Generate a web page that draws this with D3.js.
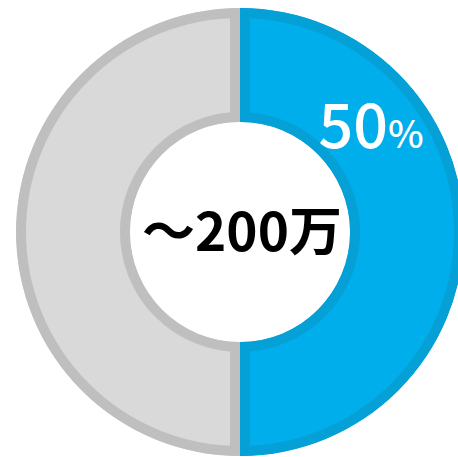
<!DOCTYPE html>
<html><head><meta charset="utf-8">
<script src="https://cdn.jsdelivr.net/npm/d3@7"></script>
<style>body{margin:0;background:#fff}</style>
</head><body>
<svg id="c" width="458" height="457"></svg>
<script>
const categories = ["該当", "その他"];
const values = [50, 50];
const colors = ["#00aeeb", "#d9d9d9"];
const strokes = ["#05a0d6", "#bfbfbf"];
const centerLabel = "～200万";
const pctLabel = "50";

const svg = d3.select("#c");
const cx = 240, cy = 232, R = 224, r = 110;
const g = svg.append("g").attr("transform", `translate(${cx},${cy})`);
const pie = d3.pie().sort(null)(values);
const arc = d3.arc().innerRadius(r).outerRadius(R);
const defs = svg.append("defs");
pie.forEach((d, i) => {
  defs.append("clipPath").attr("id", "cl" + i).append("path").attr("d", arc(d));
});
g.selectAll("path.s").data(pie).join("path")
  .attr("class", "s")
  .attr("d", arc)
  .attr("fill", (d, i) => colors[i])
  .attr("stroke", (d, i) => strokes[i])
  .attr("stroke-width", 20)
  .attr("clip-path", (d, i) => `url(#cl${i})`);

const t = svg.append("text").attr("x", 371).attr("y", 148)
  .attr("text-anchor", "middle").attr("fill", "#fff")
  .style("font-family", "'Noto Sans CJK JP', 'Noto Sans', sans-serif")
  .style("font-weight", "500");
t.append("tspan").text(pctLabel).style("font-size", "61px");
t.append("tspan").text("%").style("font-size", "38px");

svg.append("text").attr("x", 242).attr("y", 251)
  .attr("text-anchor", "middle").attr("fill", "#000")
  .style("font-family", "'Noto Sans CJK JP', sans-serif")
  .style("font-weight", "bold").style("font-size", "53px")
  .text(centerLabel);
</script>
</body></html>
